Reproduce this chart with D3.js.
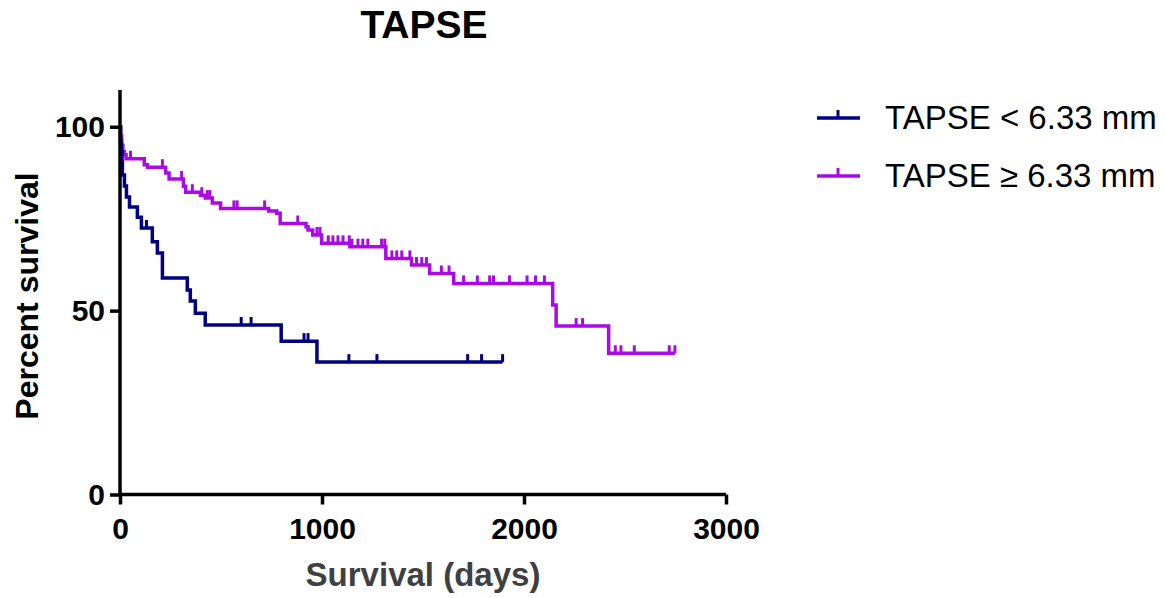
<!DOCTYPE html>
<html>
<head>
<meta charset="utf-8">
<script src="https://cdn.jsdelivr.net/npm/d3@7"></script>
<style>
  body { margin: 0; background: #fff; }
  #chart { width: 1165px; height: 598px; }
</style>
</head>
<body>
<div id="chart"></div>
<script>
// Kaplan-Meier steps (days, percent surviving)
const lowDays = [0, 3, 7, 10, 12, 22, 32, 47, 86, 106, 160, 185, 210, 333, 348, 373, 422, 798, 975];
const lowSurv = [100, 96.2, 93.5, 90.4, 86.9, 83.9, 80.9, 78.2, 75.4, 72.5, 68.7, 65.7, 58.9, 55.6, 52.6, 49.3, 46.1, 41.7, 36.0];
const lowCensored = [131, 600, 649, 911, 931, 1133, 1272, 1721, 1790, 1894];
const lowEnd = 1894;

const highDays = [0, 3, 8, 14, 21, 30, 120, 136, 226, 243, 314, 325, 398, 422, 457, 498, 736, 776, 793, 921, 931, 954, 998, 1138, 1316, 1443, 1533, 1652, 2142, 2159, 2419];
const highSurv = [100, 97.5, 95, 93.2, 92.4, 91.3, 89.7, 89.0, 87.4, 85.8, 83.8, 82.2, 81.4, 80.6, 79.3, 77.8, 77.1, 76.5, 73.7, 72.8, 71.9, 70.6, 68.3, 67.4, 64.2, 62.4, 60.1, 57.4, 51.5, 45.8, 38.4];
const highCensored = [52, 210, 305, 358, 405, 432, 445, 564, 580, 716, 880, 975, 990, 1031, 1054, 1079, 1104, 1135, 1148, 1178, 1202, 1227, 1295, 1311, 1346, 1370, 1395, 1435, 1468, 1494, 1517, 1591, 1629, 1701, 1769, 1830, 1849, 1928, 2015, 2057, 2101, 2258, 2290, 2452, 2480, 2546, 2719, 2747];
const highEnd = 2747;

const xTicks = [0, 1000, 2000, 3000];
const yTicks = [0, 50, 100];
const legendLabels = ["TAPSE < 6.33 mm", "TAPSE \u2265 6.33 mm"];
const colors = ["#000080", "#a80be3"];

const width = 1165;
const height = 598;
const font = "Arial, 'Liberation Sans', sans-serif";

const svg = d3.select("#chart")
    .append("svg")
    .attr("width", width)
    .attr("height", height);

const x = d3.scaleLinear().domain([0, 3000]).range([120, 726]);
const y = d3.scaleLinear().domain([0, 110]).range([494.5, 90]);

// survival at time t for a step curve
function survAt(days, surv, t) {
    let s = surv[0];
    for (let i = 0; i < days.length; i++) {
        if (days[i] <= t) s = surv[i];
    }
    return s;
}

const line = d3.line()
    .x(d => x(d[0]))
    .y(d => y(d[1]))
    .curve(d3.curveStepAfter);

const groups = [
    { days: lowDays, surv: lowSurv, cens: lowCensored, end: lowEnd },
    { days: highDays, surv: highSurv, cens: highCensored, end: highEnd }
];

// purple first so navy sits on top near the axis
[1, 0].forEach(gi => {
    const g = groups[gi];
    const pts = g.days.map((d, i) => [d, g.surv[i]]);
    pts.push([g.end, g.surv[g.surv.length - 1]]);

    svg.append("path")
        .attr("d", line(pts))
        .attr("fill", "none")
        .attr("stroke", colors[gi])
        .attr("stroke-width", 3.5);

    svg.selectAll(".cens" + gi)
        .data(g.cens)
        .enter()
        .append("line")
        .attr("class", "cens" + gi)
        .attr("x1", d => x(d))
        .attr("x2", d => x(d))
        .attr("y1", d => y(survAt(g.days, g.surv, d)))
        .attr("y2", d => y(survAt(g.days, g.surv, d)) - 8)
        .attr("stroke", colors[gi])
        .attr("stroke-width", 3);
});

// axes
const xAxis = svg.append("g")
    .attr("transform", `translate(0,${y(0)})`)
    .call(d3.axisBottom(x).tickValues(xTicks).tickFormat(d3.format("d"))
        .tickSize(10).tickSizeOuter(0).tickPadding(13));

const yAxis = svg.append("g")
    .attr("transform", `translate(${x(0)},0)`)
    .call(d3.axisLeft(y).tickValues(yTicks).tickFormat(d3.format("d"))
        .tickSize(10).tickSizeOuter(0).tickPadding(5));

[xAxis, yAxis].forEach(a => {
    a.select(".domain").attr("stroke", "#000").attr("stroke-width", 3.5);
    a.selectAll(".tick line").attr("stroke", "#000").attr("stroke-width", 3.5);
    a.selectAll(".tick text")
        .attr("fill", "#000")
        .attr("font-family", font)
        .attr("font-weight", "bold")
        .attr("font-size", "30px");
});
yAxis.select(".domain").attr("d", `M0,${y(0) + 1.5}V${y(110)}`);
xAxis.select(".domain").attr("d", `M${x(0) - 1.5},0H${x(3000)}`);

// title
svg.append("text")
    .attr("x", 424)
    .attr("y", 38)
    .attr("text-anchor", "middle")
    .attr("font-family", font)
    .attr("font-weight", "bold")
    .attr("font-size", "39px")
    .text("TAPSE");

// axis titles
svg.append("text")
    .attr("x", 423)
    .attr("y", 586)
    .attr("text-anchor", "middle")
    .attr("font-family", font)
    .attr("font-weight", "bold")
    .attr("font-size", "33px")
    .attr("fill", "#404040")
    .text("Survival (days)");

svg.append("text")
    .attr("transform", "translate(38,296) rotate(-90)")
    .attr("text-anchor", "middle")
    .attr("font-family", font)
    .attr("font-weight", "bold")
    .attr("font-size", "32px")
    .attr("fill", "#000")
    .text("Percent survival");

// legend
legendLabels.forEach((lab, i) => {
    const ly = 118 + i * 58;
    svg.append("line")
        .attr("x1", 817).attr("x2", 860)
        .attr("y1", ly).attr("y2", ly)
        .attr("stroke", colors[i]).attr("stroke-width", 3.5);
    svg.append("line")
        .attr("x1", 838).attr("x2", 838)
        .attr("y1", ly).attr("y2", ly - 8)
        .attr("stroke", colors[i]).attr("stroke-width", 3);
    svg.append("text")
        .attr("x", 885)
        .attr("y", ly + 11)
        .attr("font-family", font)
        .attr("font-size", "33px")
        .attr("fill", "#000")
        .text(lab);
});
</script>
</body>
</html>
